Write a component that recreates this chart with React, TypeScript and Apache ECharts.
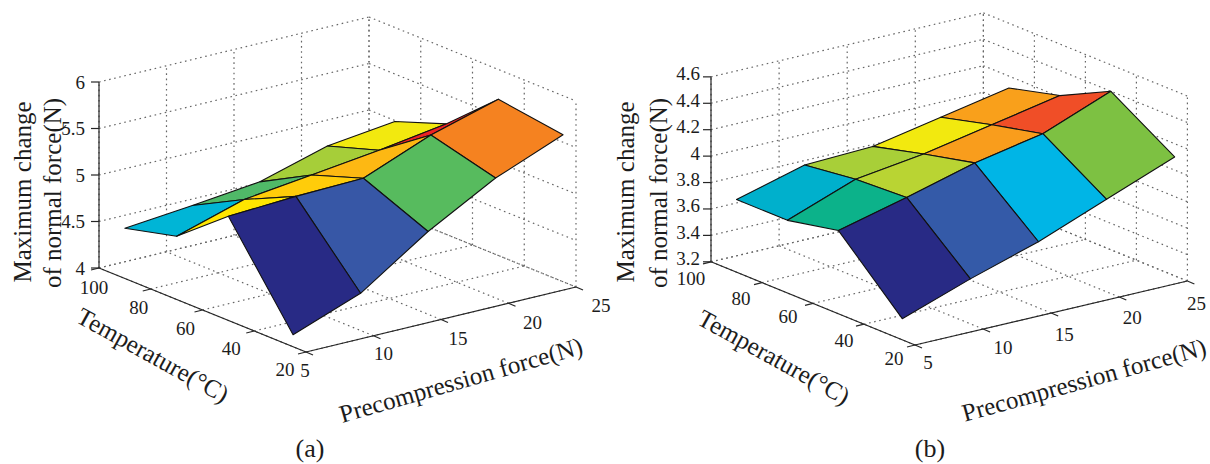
import React, { useEffect, useRef } from "react";
import * as echarts from "echarts";

// ---- data ----
const precompression = [5, 10, 15, 20, 25];
const temperatures = [25, 50, 70, 90];
const pTicks = [5, 10, 15, 20, 25];
const tTicks = [20, 40, 60, 80, 100];
const zTicksA = [4, 4.5, 5, 5.5, 6];
const zTicksB = [3.2, 3.4, 3.6, 3.8, 4, 4.2, 4.4, 4.6];

const forceA = [
  [4.13, 4.4, 4.89, 5.29, 5.58],
  [5.12, 5.16, 5.18, 5.47, 5.68],
  [4.68, 4.9, 4.99, 5.08, 5.19],
  [4.54, 4.61, 4.69, 4.9, 4.99],
];
const forceB = [
  [3.36, 3.54, 3.7, 3.9, 4.1],
  [3.83, 3.96, 4.1, 4.2, 4.4],
  [3.75, 3.94, 4.01, 4.11, 4.21],
  [3.75, 3.89, 3.91, 4.01, 4.11],
];
const facetColorsA = [
  ["#282a85", "#3757a6", "#57bb5e", "#f58220"],
  ["#ffe600", "#ffcc0a", "#fdb813", "#ed2224"],
  ["#00b5d6", "#50b968", "#a6ce39", "#f2e90f"],
];
const facetColorsB = [
  ["#282a85", "#345aa8", "#00b5e6", "#7dc142"],
  ["#0cb28a", "#b9d433", "#f99d1c", "#f04e27"],
  ["#00b0cc", "#a8cf38", "#f2e90f", "#f9a01b"],
];

const FONT = '"Liberation Serif", "Times New Roman", serif';
const INK = "#262626";

type Panel = {
  origin: number[]; // screen position of P=5, T=20, z=zMin
  perP: number[];
  perT: number[];
  perZ: number;
  zMin: number;
  zTicks: number[];
  force: number[][];
  colors: string[][];
  zLabelX: number;
  zLabelDy: number;
  tOffsets: number[][];
  pOffsets: number[][];
  titles: { text: string; x: number; y: number; deg: number; size: number }[];
};

const panelA: Panel = {
  origin: [306, 352],
  perP: [13.5, -3.25],
  perT: [-2.5875, -1.05],
  perZ: 93,
  zMin: 4,
  zTicks: zTicksA,
  force: forceA,
  colors: facetColorsA,
  zLabelX: -14,
  zLabelDy: 0,
  tOffsets: [[-21, 17], [-23, 17], [-17, 18], [-12, 18], [-5, 19]],
  pOffsets: [[-1, 18], [10, 18], [17, 19], [24, 19], [25, 18]],
  titles: [
    { text: "Maximum change", x: 22, y: 192, deg: 90, size: 25 },
    { text: "of normal force(N)", x: 52, y: 193, deg: 90, size: 25 },
    { text: "Temperature(°C)", x: 153, y: 355, deg: -29, size: 25 },
    { text: "Precompression force(N)", x: 461, y: 380, deg: 16, size: 25 },
    { text: "(a)", x: 310, y: 448, deg: 0, size: 26 },
  ],
};

const panelB: Panel = {
  origin: [915, 345],
  perP: [13.62, -3.2],
  perT: [-2.55, -1.04],
  perZ: 132.1,
  zMin: 3.2,
  zTicks: zTicksB,
  force: forceB,
  colors: facetColorsB,
  zLabelX: -11,
  zLabelDy: -3,
  tOffsets: [[-21, 13], [-20, 16], [-25, 13], [-21, 16], [-20, 17]],
  pOffsets: [[13, 17], [20, 18], [13, 21], [13, 20], [9, 22]],
  titles: [
    { text: "Maximum change", x: 625, y: 192, deg: 90, size: 25 },
    { text: "of normal force(N)", x: 658, y: 193, deg: 90, size: 25 },
    { text: "Temperature(°C)", x: 774, y: 357, deg: -29, size: 25 },
    { text: "Precompression force(N)", x: 1084, y: 380, deg: 15.5, size: 25 },
    { text: "(b)", x: 930, y: 448, deg: 0, size: 26 },
  ],
};

const project = (pn: Panel, P: number, T: number, z: number): number[] => [
  pn.origin[0] + (P - 5) * pn.perP[0] + (T - 20) * pn.perT[0],
  pn.origin[1] + (P - 5) * pn.perP[1] + (T - 20) * pn.perT[1] - (z - pn.zMin) * pn.perZ,
];

function panelSeries(pn: Panel): any[] {
  const zTop = pn.zTicks[pn.zTicks.length - 1];
  const zLow = pn.zTicks[0];
  const gridLines: number[][] = [];
  pn.zTicks.forEach((z) => {
    gridLines.push([5, 100, z, 25, 100, z]);
    gridLines.push([25, 100, z, 25, 20, z]);
  });
  pTicks.forEach((p) => {
    gridLines.push([p, 100, zLow, p, 100, zTop]);
    gridLines.push([p, 20, zLow, p, 100, zLow]);
  });
  tTicks.forEach((t) => {
    gridLines.push([25, t, zLow, 25, t, zTop]);
    gridLines.push([5, t, zLow, 25, t, zLow]);
  });

  const axisLines = [
    [5, 100, zLow, 5, 100, zTop],
    [5, 100, zLow, 5, 20, zLow],
    [5, 20, zLow, 25, 20, zLow],
  ];

  const tickData: number[][] = [];
  pn.zTicks.forEach((z) => tickData.push([5, 100, z, -8, 0]));
  tTicks.forEach((t) => tickData.push([5, t, zLow, -8, 2]));
  pTicks.forEach((p) => tickData.push([p, 20, zLow, 7, 3]));

  const segment = (api: any, a: number[], b: number[], style: any, d = [0, 0]) => {
    const s = api.coord(a);
    const e = api.coord(b);
    return {
      type: "line",
      shape: { x1: s[0], y1: s[1], x2: e[0] + d[0], y2: e[1] + d[1] },
      style,
    };
  };

  const dotted = { stroke: "#666", lineWidth: 1.2, lineDash: [1.6, 3.6], fill: "none" };
  const solid = { stroke: INK, lineWidth: 1.2, fill: "none" };

  const base = { type: "custom", coordinateSystem: "cartesian2d", silent: true, clip: false, animation: false };

  const facets: number[][] = [];
  for (let r = temperatures.length - 2; r >= 0; r--) {
    for (let c = precompression.length - 2; c >= 0; c--) facets.push([r, c]);
  }

  const labels: { text: string; x: number; y: number; deg: number; size: number; align: string }[] = [];
  pn.zTicks.forEach((z) => {
    const [x, y] = project(pn, 5, 100, z);
    labels.push({ text: String(z), x: x + pn.zLabelX, y: y + pn.zLabelDy, deg: 0, size: 19, align: "right" });
  });
  tTicks.forEach((t, i) => {
    const [x, y] = project(pn, 5, t, zLow);
    labels.push({ text: String(t), x: x + pn.tOffsets[i][0], y: y + pn.tOffsets[i][1], deg: 0, size: 19, align: "center" });
  });
  pTicks.forEach((p, i) => {
    const [x, y] = project(pn, p, 20, zLow);
    labels.push({ text: String(p), x: x + pn.pOffsets[i][0], y: y + pn.pOffsets[i][1], deg: 0, size: 19, align: "center" });
  });
  pn.titles.forEach((t) => labels.push({ ...t, align: "center" }));

  return [
    {
      ...base,
      data: gridLines,
      renderItem: (_: any, api: any) => {
        const v = [0, 1, 2, 3, 4, 5].map((k) => api.value(k));
        return segment(api, project(pn, v[0], v[1], v[2]), project(pn, v[3], v[4], v[5]), dotted);
      },
    },
    {
      ...base,
      data: axisLines,
      renderItem: (_: any, api: any) => {
        const v = [0, 1, 2, 3, 4, 5].map((k) => api.value(k));
        return segment(api, project(pn, v[0], v[1], v[2]), project(pn, v[3], v[4], v[5]), solid);
      },
    },
    {
      ...base,
      data: tickData,
      renderItem: (_: any, api: any) => {
        const v = [0, 1, 2, 3, 4].map((k) => api.value(k));
        const a = project(pn, v[0], v[1], v[2]);
        return segment(api, a, a, solid, [v[3], v[4]]);
      },
    },
    {
      ...base,
      data: facets,
      renderItem: (_: any, api: any) => {
        const r = api.value(0);
        const c = api.value(1);
        const corners = [
          [c, r],
          [c + 1, r],
          [c + 1, r + 1],
          [c, r + 1],
        ].map(([j, i]) => api.coord(project(pn, precompression[j], temperatures[i], pn.force[i][j])));
        return {
          type: "polygon",
          shape: { points: corners },
          style: { fill: pn.colors[r][c], stroke: "#111", lineWidth: 1.1, lineJoin: "round" },
        };
      },
    },
    {
      ...base,
      data: labels.map((_, i) => [i, 0]),
      renderItem: (_: any, api: any) => {
        const l = labels[api.value(0)];
        const p = api.coord([l.x, l.y]);
        return {
          type: "text",
          x: p[0],
          y: p[1],
          rotation: (l.deg * Math.PI) / 180,
          style: {
            text: l.text,
            x: 0,
            y: 0,
            fill: "#1c1c1c",
            font: `${l.size}px ${FONT}`,
            align: l.align,
            verticalAlign: "middle",
          },
        };
      },
    },
  ];
}

export default function App() {
  const ref = useRef<HTMLDivElement>(null);
  useEffect(() => {
    document.body.style.margin = "0";
    const chart = echarts.init(ref.current!, undefined, { renderer: "svg" });
    chart.setOption({
      animation: false,
      backgroundColor: "#ffffff",
      grid: { left: 0, top: 0, width: 1210, height: 464 },
      xAxis: { type: "value", min: 0, max: 1210, show: false },
      yAxis: { type: "value", min: 0, max: 464, inverse: true, show: false },
      series: [...panelSeries(panelA), ...panelSeries(panelB)],
    });
    return () => chart.dispose();
  }, []);
  return <div ref={ref} style={{ width: 1210, height: 464 }} />;
}
